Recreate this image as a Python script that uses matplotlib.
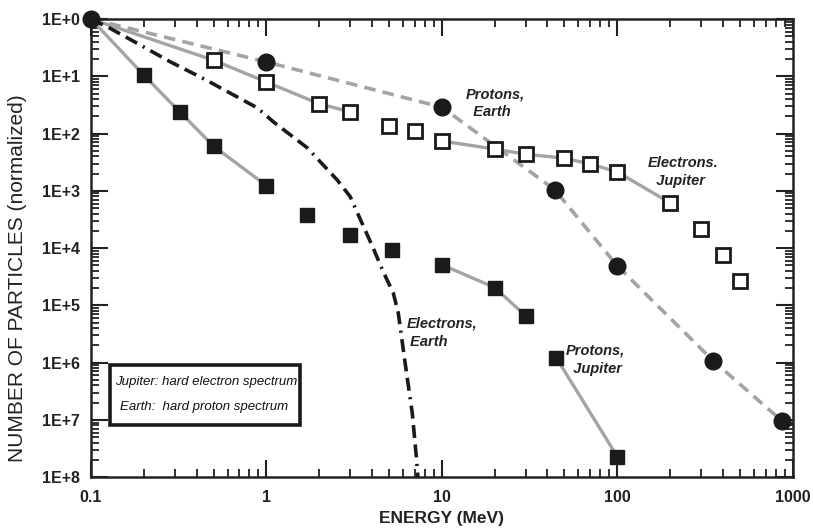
import matplotlib
matplotlib.use("Agg")
import matplotlib.pyplot as plt
from matplotlib.patches import Rectangle
from matplotlib.ticker import LogLocator, FixedLocator, FixedFormatter, NullFormatter

plt.rcParams['font.family'] = ['Liberation Sans', 'DejaVu Sans']

# Protons, Earth (filled circles, grey dashed)
pe_x = [0.1, 1, 10, 44, 100, 353, 870]
pe_k = [0, 0.75, 1.54, 2.98, 4.31, 5.97, 7.02]

# Electrons, Jupiter (open squares)
ej_x = [0.1, 0.5, 1, 2, 3, 5, 7, 10, 20, 30, 50, 70, 100, 200, 300, 400, 500]
ej_k = [0, 0.72, 1.10, 1.48, 1.62, 1.87, 1.95, 2.13, 2.27, 2.36, 2.43, 2.53, 2.67, 3.21, 3.66, 4.12, 4.57]

# Protons, Jupiter (filled squares)
pj_x = [0.1, 0.2, 0.32, 0.5, 1, 1.7, 3, 5.2, 10, 20, 30, 45, 100]
pj_k = [0, 0.98, 1.62, 2.22, 2.91, 3.42, 3.77, 4.03, 4.29, 4.69, 5.18, 5.92, 7.64]

# Electrons, Earth (black dashed curve)
ee_x = [0.1, 0.128, 0.19, 0.28, 0.45, 0.885, 1.1, 1.71, 2.53, 3.0, 4.06, 4.64, 5.28, 5.64, 6.17, 6.78, 7.15, 7.3]
ee_k = [0, 0.16, 0.45, 0.74, 1.06, 1.55, 1.80, 2.25, 2.81, 3.1, 4.0, 4.42, 4.78, 5.13, 6.0, 6.88, 7.64, 8.0]

y_labels = ['1E+0', '1E+1', '1E+2', '1E+3', '1E+4', '1E+5', '1E+6', '1E+7', '1E+8']
x_labels = ['0.1', '1', '10', '100', '1000']

def v(ks):
    return [10.0 ** (-k) for k in ks]

fig = plt.figure(figsize=(8.13, 5.29), dpi=100)
ax = fig.add_axes([0.112, 0.098, 0.863, 0.866])
ax.set_xscale('log')
ax.set_yscale('log')
ax.set_xlim(0.1, 1000)
ax.set_ylim(1e-8, 1)

grey = '#a4a4a4'
ink = '#1a1a1a'

# Electrons, Earth
ax.plot(ee_x, v(ee_k), color=ink, lw=2.6,
        dashes=(3.6, 1.8, 3.6, 1.8, 3.6, 1.8, 0.6, 1.8), zorder=3)

# Protons, Earth
ax.plot(pe_x, v(pe_k), color=grey, lw=2.6, dashes=(3.2, 2.0), zorder=2)
ax.plot(pe_x, v(pe_k), ls='none', marker='o', ms=12, color=ink, zorder=5, clip_on=False)

# Electrons, Jupiter: line segments
for a, b in [(0, 5), (7, 14)]:
    ax.plot(ej_x[a:b], v(ej_k[a:b]), color=grey, lw=2.4, zorder=2)
ax.plot(ej_x[1:], v(ej_k[1:]), ls='none', marker='s', ms=10.5, mfc='white',
        mec=ink, mew=2, zorder=5)

# Protons, Jupiter
for a, b in [(0, 5), (8, 11), (11, 13)]:
    ax.plot(pj_x[a:b], v(pj_k[a:b]), color=grey, lw=2.4, zorder=2)
ax.plot(pj_x[1:], v(pj_k[1:]), ls='none', marker='s', ms=10.5, color=ink, zorder=5)

# labels on curves
tkw = dict(fontsize=10.5, style='italic', fontweight='bold', color='#222222', linespacing=1.35)
ax.text(13.6, 10 ** -1.47, 'Protons,\n  Earth', ha='left', va='center', **tkw)
ax.text(150, 10 ** -2.67, 'Electrons.\n  Jupiter', ha='left', va='center', **tkw)
ax.text(6.27, 10 ** -5.48, 'Electrons,\n Earth', ha='left', va='center', **tkw)
ax.text(50.6, 10 ** -5.95, 'Protons,\n  Jupiter', ha='left', va='center', **tkw)

# note box
ax.add_patch(Rectangle((0.027, 0.1135), 0.271, 0.131, transform=ax.transAxes,
                       fc='white', ec=ink, lw=2.6, zorder=6))
bkw = dict(fontsize=9.5, style='italic', color='#111111', transform=ax.transAxes,
           ha='left', va='center', zorder=7)
ax.text(0.034, 0.2074, 'Jupiter: hard electron spectrum', **bkw)
ax.text(0.041, 0.153, 'Earth:  hard proton spectrum', **bkw)

# ticks
ax.yaxis.set_major_locator(FixedLocator([10.0 ** (-k) for k in range(9)]))
ax.yaxis.set_major_formatter(FixedFormatter(y_labels))
ax.yaxis.set_minor_locator(LogLocator(base=10, subs=range(2, 10), numticks=20))
ax.yaxis.set_minor_formatter(NullFormatter())
ax.xaxis.set_major_locator(FixedLocator([0.1, 1, 10, 100, 1000]))
ax.xaxis.set_major_formatter(FixedFormatter(x_labels))
ax.xaxis.set_minor_locator(LogLocator(base=10, subs=range(2, 10), numticks=20))
ax.xaxis.set_minor_formatter(NullFormatter())

ax.tick_params(which='both', direction='in', top=True, right=True, color='#222222')
ax.tick_params(which='major', length=12, width=1.5, labelsize=11.5)
ax.tick_params(axis='x', which='major', pad=9)
ax.tick_params(axis='y', which='major', pad=8)
ax.tick_params(which='minor', length=6, width=1.3)
for lab in ax.get_xticklabels() + ax.get_yticklabels():
    lab.set_fontweight('bold')
    lab.set_color('#222222')

for s in ax.spines.values():
    s.set_linewidth(1.8)
    s.set_color('#222222')

ax.set_xlabel('ENERGY (MeV)', fontsize=12.5, fontweight='bold', color='#222222')
ax.xaxis.set_label_coords(0.5, -0.073)
ax.set_ylabel('NUMBER OF PARTICLES (normalized)', fontsize=15, color='#222222')
ax.yaxis.set_label_coords(-0.091, 0.434)

fig.savefig('out.png', dpi=100)
